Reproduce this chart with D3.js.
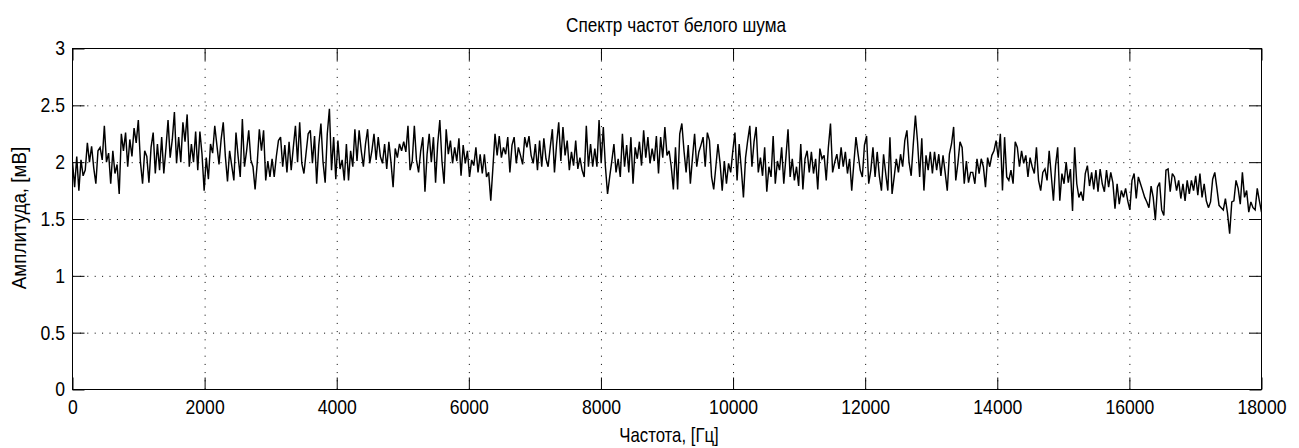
<!DOCTYPE html>
<html>
<head>
<meta charset="utf-8">
<script src="https://cdn.jsdelivr.net/npm/d3@7"></script>
<style>
  html, body { margin: 0; padding: 0; background: #fff; }
  svg { display: block; }
</style>
</head>
<body>
<svg id="chart" width="1299" height="448"></svg>
<script>
// Labels
const titleText = "Спектр частот белого шума";
const xLabelText = "Частота, [Гц]";
const yLabelText = "Амплитуда, [мВ]";

// Axis ticks
const xTicks = [0, 2000, 4000, 6000, 8000, 10000, 12000, 14000, 16000, 18000];
const yTicks = [0, 0.5, 1, 1.5, 2, 2.5, 3];
const freqMax = 18000;

// Amplitude spectrum, mV, evenly spaced bins from 0 to 18000 Hz
const amplitude = [
  2.0, 1.78, 2.05,
  1.75, 2.02, 1.88, 1.93, 2.17, 2.0, 2.14, 1.95, 1.81, 2.1, 2.13, 2.02, 2.32, 2.0, 2.08,
  1.81, 2.1, 1.90, 1.98, 1.72, 2.25, 2.1, 2.26, 1.96, 2.2, 2.05, 2.3, 2.17, 2.37, 2.0,
  1.81, 2.1, 2.05, 1.82, 2.13, 2.26, 1.9, 2.16, 1.93, 2.22, 1.9, 2.12, 2.37, 2.04, 2.2,
  2.44, 1.99, 2.22, 2.0, 2.35, 2.18, 2.42, 1.96, 2.16, 2.0, 2.27, 1.93, 2.27, 2.07, 1.75,
  2.04, 1.85, 2.16, 2.08, 2.32, 2.15, 1.98, 2.2, 2.35, 2.05, 1.83,

  2.10, 1.97, 1.84, 2.26, 2.05, 1.87, 2.38, 1.96, 2.10, 2.28, 2.02, 1.96, 1.76, 1.99, 2.29,
  2.10, 2.28, 1.84, 2.01, 1.87, 2.03, 1.87, 2.05, 2.19, 2.22, 1.96, 2.15, 1.91, 2.18, 1.93,
  2.13, 2.32, 2.0, 2.35, 1.99, 1.90, 2.08, 2.25, 2.28, 1.99, 2.23, 1.81, 2.15, 2.34, 2.0,
  1.82, 2.25, 2.47, 1.93, 2.22, 1.85, 2.19, 1.94, 2.02, 1.84, 2.16, 1.84, 2.10, 1.96, 2.29,
  2.01, 2.28, 2.1, 1.96, 2.16, 2.29, 1.99, 2.1, 2.25, 2.02,

  2.22, 2.05, 1.99, 2.16, 1.94, 2.18, 2.0, 1.78, 2.12, 2.04, 2.16, 2.10, 2.18, 2.09, 2.32,
  1.93, 2.01, 2.32, 2.02, 1.91, 2.10, 2.22, 1.74, 2.07, 2.25, 2.00, 2.22, 1.82, 2.16, 2.37,
  2.01, 1.81, 2.29, 2.07, 2.19, 1.99, 2.13, 2.01, 2.21, 1.88, 2.15, 1.99, 2.10, 1.87, 2.02,
  1.97, 2.13, 1.91, 2.07, 1.90, 2.07, 1.87, 1.91, 1.66, 1.95, 2.25, 2.06, 2.23, 2.04, 2.13,
  2.07, 2.22, 1.91, 2.15, 2.22, 1.99, 2.13, 2.06, 1.98, 2.22,

  2.13, 2.23, 2.06, 1.99, 2.16, 1.93, 2.19, 1.96, 2.21, 2.03, 1.96, 2.13, 2.29, 1.91, 2.16,
  2.35, 2.01, 2.31, 2.06, 2.19, 1.93, 2.09, 1.97, 2.19, 1.94, 2.04, 1.93, 1.87, 2.32, 1.96,
  2.16, 1.96, 2.12, 1.96, 2.37, 1.99, 2.31, 1.96, 1.72, 1.87, 2.01, 2.16, 1.91, 2.03, 1.87,
  2.25, 1.96, 2.15, 1.91, 2.22, 1.81, 2.13, 2.03, 2.18, 1.97, 2.28, 2.04, 2.22, 1.99, 2.12,
  2.01, 2.23, 1.90, 2.22, 2.04, 2.31, 2.06, 2.1, 1.96, 1.76,

  2.13, 1.76, 2.25, 2.34, 2.10, 1.91, 2.15, 1.81, 2.04, 2.25, 1.96, 2.09, 2.15, 2.22, 1.96,
  2.26, 2.19, 1.87, 1.76, 1.96, 2.16, 1.99, 1.75, 2.01, 1.81, 1.99, 1.91, 2.10, 2.26, 1.84,
  2.16, 1.94, 1.69, 2.04, 2.19, 2.32, 1.96, 2.18, 2.31, 1.91, 2.04, 1.88, 2.13, 1.74, 1.96,
  1.87, 2.23, 1.81, 2.01, 1.93, 2.13, 1.81, 2.04, 2.29, 1.87, 2.03, 1.84, 1.96, 1.79, 2.16,
  1.76, 2.03, 2.10, 1.91, 2.09, 1.90, 2.03, 1.76, 2.12, 2.03,

  2.06, 1.84, 2.13, 2.34, 1.91, 2.00, 2.07, 1.94, 2.13, 1.96, 2.09, 1.90, 2.03, 1.75, 1.99,
  2.22, 2.07, 1.93, 1.87, 2.15, 2.23, 1.81, 1.93, 2.13, 1.87, 2.09, 1.88, 1.75, 2.07, 1.90,
  1.75, 2.22, 1.72, 1.87, 2.03, 1.91, 2.07, 1.96, 2.19, 2.28, 2.00, 1.88, 2.16, 2.41, 2.18,
  1.87, 2.21, 1.75, 2.06, 1.93, 2.09, 1.90, 2.09, 1.93, 2.07, 1.88, 2.06, 1.91, 1.75, 2.07,
  2.16, 2.31, 1.84, 1.99, 2.18, 2.13, 1.81, 2.01, 1.82, 1.91,

  1.91, 1.81, 2.03, 1.90, 2.03, 1.96, 1.78, 2.04, 1.96, 2.06, 2.10, 2.19, 2.04, 2.25, 1.75,
  2.22, 1.87, 1.84, 1.93, 1.81, 2.18, 2.13, 1.96, 2.10, 1.99, 2.06, 1.87, 2.04, 1.96, 1.90,
  2.13, 1.84, 1.75, 1.91, 1.94, 1.84, 2.10, 1.88, 1.66, 1.97, 2.13, 1.66, 1.90, 1.81, 2.00,
  1.82, 1.94, 1.57, 2.13, 1.81, 1.69, 1.74, 1.66, 1.90, 1.97, 1.79, 1.91, 1.76, 1.93, 1.74,
  1.94, 1.81, 1.74, 1.93, 1.78, 1.91, 1.82, 1.59, 1.81, 1.63,

  1.75, 1.69, 1.77, 1.66, 1.58, 1.84, 1.90, 1.68, 1.87, 1.81, 1.75, 1.69, 1.65, 1.60, 1.79,
  1.69, 1.49, 1.78, 1.82, 1.58, 1.53, 1.93, 1.94, 1.74, 1.90, 1.87, 1.75, 1.84, 1.68, 1.81,
  1.66, 1.84, 1.72, 1.84, 1.75, 1.88, 1.71, 1.90, 1.69, 1.81, 1.66, 1.60, 1.65, 1.85, 1.91,
  1.77, 1.62, 1.60, 1.58, 1.68, 1.55, 1.37, 1.65, 1.66, 1.84, 1.77, 1.63, 1.91, 1.69, 1.75,
  1.56, 1.65, 1.60, 1.58, 1.77, 1.66, 1.56
];

// Layout
const plot = { left: 72.5, right: 1261.5, top: 48.5, bottom: 389.5 };
const fontFamily = "'Liberation Sans', Arial, Helvetica, sans-serif";
const fontSize = 20;
const squeeze = 0.88; // narrow glyph rendering

const svg = d3.select("#chart");

const x = d3.scaleLinear().domain([0, freqMax]).range([plot.left, plot.right]);
const y = d3.scaleLinear().domain([0, 3]).range([plot.bottom, plot.top]);

const df = freqMax / (amplitude.length - 1);
const series = amplitude.map((a, i) => ({ f: i * df, a }));

// Dotted grid
const gridX = svg.append("g")
  .attr("transform", `translate(0,${plot.bottom})`)
  .call(d3.axisBottom(x).tickValues(xTicks.slice(1, -1))
    .tickSize(-(plot.bottom - plot.top)).tickFormat(""));
gridX.select(".domain").remove();
gridX.selectAll("line")
  .attr("stroke", "#000").attr("stroke-width", 1)
  .attr("stroke-dasharray", "1,7.2");

const gridY = svg.append("g")
  .attr("transform", `translate(${plot.left},0)`)
  .call(d3.axisLeft(y).tickValues(yTicks.slice(1, -1))
    .tickSize(-(plot.right - plot.left)).tickFormat(""));
gridY.select(".domain").remove();
gridY.selectAll("line")
  .attr("stroke", "#000").attr("stroke-width", 1)
  .attr("stroke-dasharray", "1,6.4");

// Spectrum trace
svg.append("defs").append("clipPath").attr("id", "plotClip")
  .append("rect")
  .attr("x", plot.left).attr("y", plot.top)
  .attr("width", plot.right - plot.left).attr("height", plot.bottom - plot.top);

svg.append("path")
  .datum(series)
  .attr("clip-path", "url(#plotClip)")
  .attr("fill", "none")
  .attr("stroke", "#000")
  .attr("stroke-width", 1.45)
  .attr("stroke-linejoin", "miter")
  .attr("stroke-miterlimit", 3)
  .attr("d", d3.line().x(d => x(d.f)).y(d => y(d.a)));

// Axes with inward ticks on all four sides
const tickLen = 12;
function styleAxis(g) {
  g.select(".domain").remove();
  g.selectAll(".tick line").attr("stroke", "#000");
  g.selectAll(".tick text")
    .attr("fill", "#000")
    .style("font-family", fontFamily)
    .style("font-size", fontSize + "px");
}

const axB = svg.append("g")
  .attr("transform", `translate(0,${plot.bottom})`)
  .call(d3.axisBottom(x).tickValues(xTicks).tickSizeInner(-tickLen).tickSizeOuter(0)
    .tickPadding(10).tickFormat(d3.format("d")));
styleAxis(axB);
axB.selectAll(".tick text").attr("transform", `scale(${squeeze},1)`);

const axL = svg.append("g")
  .attr("transform", `translate(${plot.left},0)`)
  .call(d3.axisLeft(y).tickValues(yTicks).tickSizeInner(-tickLen).tickSizeOuter(0)
    .tickPadding(7.5).tickFormat(d => String(d)));
styleAxis(axL);
axL.selectAll(".tick text")
  .attr("x", -7.5 / squeeze)
  .attr("transform", `scale(${squeeze},1)`);

const axT = svg.append("g")
  .attr("transform", `translate(0,${plot.top})`)
  .call(d3.axisTop(x).tickValues(xTicks).tickSizeInner(-tickLen).tickSizeOuter(0).tickFormat(""));
styleAxis(axT);

const axR = svg.append("g")
  .attr("transform", `translate(${plot.right},0)`)
  .call(d3.axisRight(y).tickValues(yTicks).tickSizeInner(-tickLen).tickSizeOuter(0).tickFormat(""));
styleAxis(axR);

// Box
svg.append("rect")
  .attr("x", plot.left).attr("y", plot.top)
  .attr("width", plot.right - plot.left).attr("height", plot.bottom - plot.top)
  .attr("fill", "none").attr("stroke", "#000").attr("stroke-width", 1);

// Title and axis labels
function label(px, py, text, angle, sx) {
  svg.append("g")
    .attr("transform", `translate(${px},${py}) rotate(${angle}) scale(${sx},1)`)
    .append("text")
    .attr("text-anchor", "middle")
    .attr("fill", "#000")
    .style("font-family", fontFamily)
    .style("font-size", fontSize + "px")
    .text(text);
}
label(676, 32, titleText, 0, 0.86);
label(669, 442, xLabelText, 0, 0.84);
label(26, 218, yLabelText, -90, 0.94);
</script>
</body>
</html>
